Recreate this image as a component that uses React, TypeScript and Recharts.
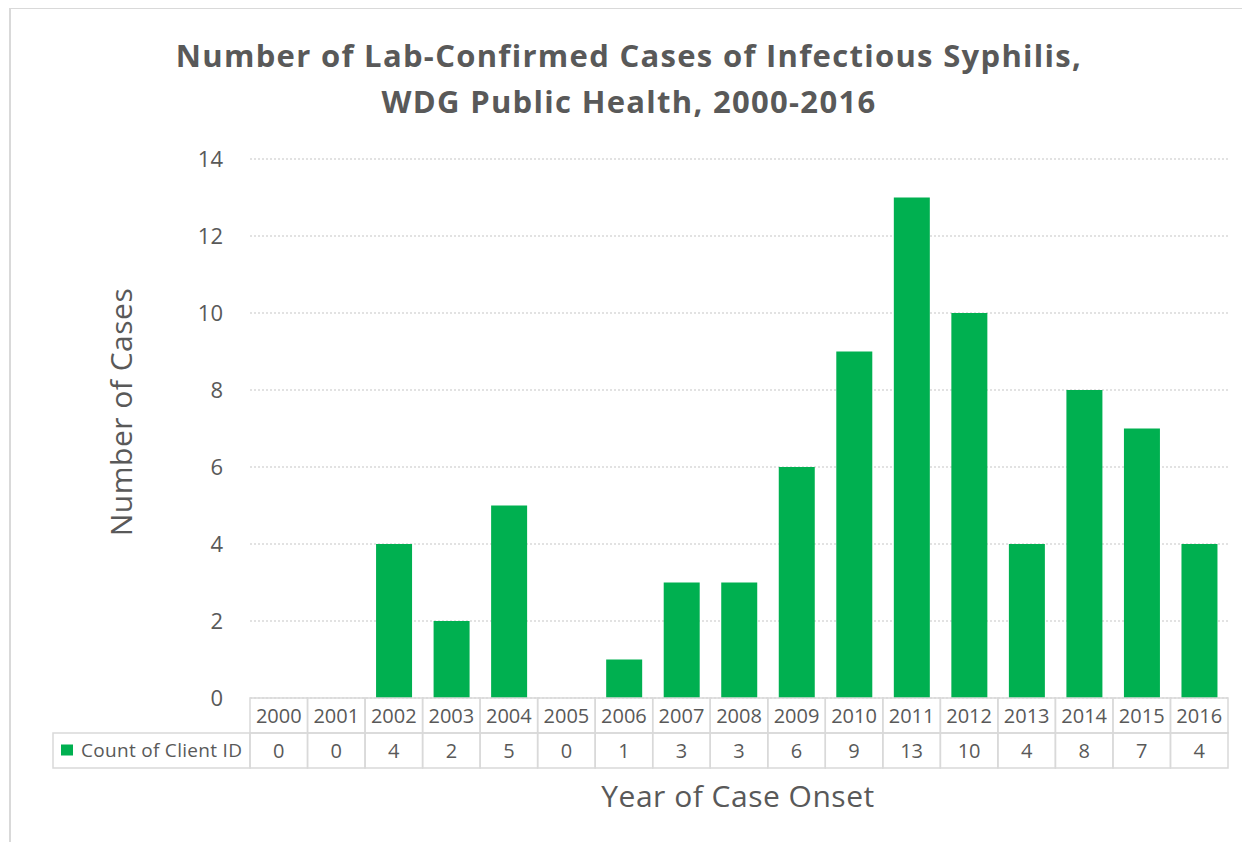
import { Bar, BarChart, CartesianGrid, XAxis, YAxis } from "recharts";

const years = [
  "2000", "2001", "2002", "2003", "2004", "2005", "2006", "2007", "2008",
  "2009", "2010", "2011", "2012", "2013", "2014", "2015", "2016",
];
const counts = [0, 0, 4, 2, 5, 0, 1, 3, 3, 6, 9, 13, 10, 4, 8, 7, 4];
const yTicks = [0, 2, 4, 6, 8, 10, 12, 14];
const seriesName = "Count of Client ID";

const data = years.map((year, i) => ({ year, count: counts[i] }));

const W = 1250;
const H = 842;
const PLOT_LEFT = 250;
const PLOT_RIGHT = 1228;
const PLOT_TOP = 159;
const PLOT_BOTTOM = 698;
const Y_AXIS_W = 60;
const X_AXIS_H = 70;
const ROW_H = 35;
const COL_W = (PLOT_RIGHT - PLOT_LEFT) / years.length;
const LEGEND_LEFT = 53;

const GREEN = "#00B050";
const TEXT = "#595959";
const BORDER = "#d9d9d9";
const FONT = "'Open Sans', sans-serif";

// x axis tick = one column of the data table under the chart
function TableTick(props: any) {
  const { x, y, payload, index } = props;
  const left = x - COL_W / 2;
  const value = counts[index];
  return (
    <g>
      <rect x={left} y={y} width={COL_W} height={ROW_H} fill="none" stroke={BORDER} strokeWidth={1.5} />
      <rect x={left} y={y + ROW_H} width={COL_W} height={ROW_H} fill="none" stroke={BORDER} strokeWidth={1.5} />
      <text x={x} y={y + ROW_H / 2} dy="0.35em" textAnchor="middle" fontSize={20} fill={TEXT} fontFamily={FONT}>
        {payload.value}
      </text>
      <text x={x} y={y + ROW_H * 1.5} dy="0.35em" textAnchor="middle" fontSize={20} fill={TEXT} fontFamily={FONT}>
        {value}
      </text>
      {index === 0 && (
        <g>
          <rect
            x={LEGEND_LEFT}
            y={y + ROW_H}
            width={left - LEGEND_LEFT}
            height={ROW_H}
            fill="none"
            stroke={BORDER}
            strokeWidth={1.5}
          />
          <rect x={61} y={y + ROW_H * 1.5 - 6} width={12} height={11} fill={GREEN} />
          <text
            x={81}
            y={y + ROW_H * 1.5}
            dy="0.35em"
            fontSize={19}
            letterSpacing={0.3}
            fill={TEXT}
            fontFamily={FONT}
          >
            {seriesName}
          </text>
        </g>
      )}
    </g>
  );
}

export default function App() {
  return (
    <div style={{ position: "relative", width: W, height: H, margin: "-8px 0 0 -8px", background: "#fff" }}>
      <div
        style={{
          position: "absolute",
          left: 9,
          top: 7,
          width: W,
          height: H,
          border: `2px solid ${BORDER}`,
          boxSizing: "border-box",
        }}
      />
      <div
        style={{
          position: "absolute",
          left: 0,
          top: 32,
          width: 1258,
          textAlign: "center",
          fontFamily: FONT,
          fontWeight: 700,
          fontSize: 31,
          letterSpacing: 1.3,
          lineHeight: "46px",
          color: TEXT,
        }}
      >
        Number of Lab-Confirmed Cases of Infectious Syphilis,
        <br />
        WDG Public Health, 2000-2016
      </div>
      <BarChart
        width={W}
        height={H}
        data={data}
        margin={{
          top: PLOT_TOP,
          right: W - PLOT_RIGHT,
          left: PLOT_LEFT - Y_AXIS_W,
          bottom: H - PLOT_BOTTOM - X_AXIS_H,
        }}
        style={{ position: "absolute", left: 0, top: 0 }}
      >
        <CartesianGrid vertical={false} stroke={BORDER} strokeDasharray="2 2" strokeWidth={1.5} />
        <XAxis
          dataKey="year"
          height={X_AXIS_H}
          axisLine={false}
          tickLine={false}
          tickSize={0}
          tickMargin={0}
          interval={0}
          tick={<TableTick />}
        />
        <YAxis
          width={Y_AXIS_W}
          domain={[0, 14]}
          ticks={yTicks}
          axisLine={false}
          tickLine={false}
          tickSize={6}
          tickMargin={21}
          tick={{ fontSize: 22, fill: TEXT, fontFamily: FONT }}
        />
        <Bar dataKey="count" fill={GREEN} barSize={36} isAnimationActive={false} />
      </BarChart>
      <div
        style={{
          position: "absolute",
          left: 120,
          top: 412,
          transform: "translate(-50%, -50%) rotate(-90deg)",
          whiteSpace: "nowrap",
          fontFamily: FONT,
          fontSize: 30,
          letterSpacing: 0.5,
          color: TEXT,
        }}
      >
        Number of Cases
      </div>
      <div
        style={{
          position: "absolute",
          left: 738,
          top: 795,
          transform: "translate(-50%, -50%)",
          whiteSpace: "nowrap",
          fontFamily: FONT,
          fontSize: 30,
          letterSpacing: 0.5,
          color: TEXT,
        }}
      >
        Year of Case Onset
      </div>
    </div>
  );
}
